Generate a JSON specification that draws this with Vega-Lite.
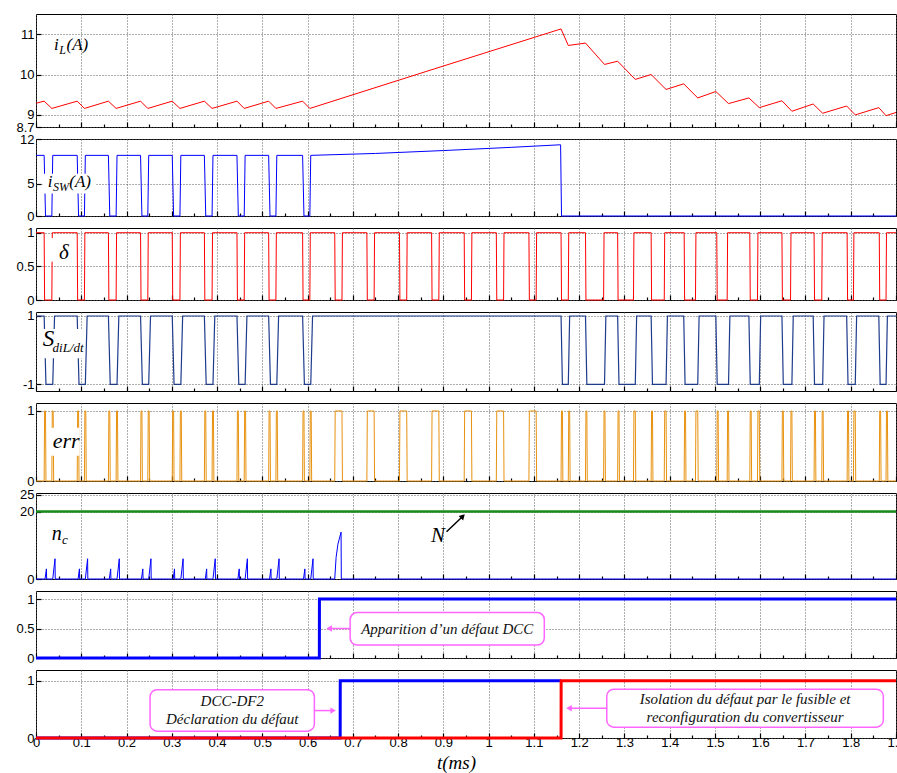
{
"$schema":"https://vega.github.io/schema/vega-lite/v6.json",
"padding":{"left":5,"top":13,"right":0,"bottom":0},
"spacing":12,
"bounds":"flush",
"config":{"view":{"stroke":"#000","strokeWidth":1},"axis":{"gridColor":"#5a5a5a","gridDash":[1,2],"gridWidth":1,"labelFont":"Liberation Sans","labelFontSize":13,"labelColor":"#000","tickColor":"#000","tickWidth":1.2,"domain":false,"labelOverlap":false}},
"datasets":{
"tk":[{"t":0.05},{"t":0.1},{"t":0.15},{"t":0.2},{"t":0.25},{"t":0.3},{"t":0.35},{"t":0.4},{"t":0.45},{"t":0.5},{"t":0.55},{"t":0.6},{"t":0.65},{"t":0.7},{"t":0.75},{"t":0.8},{"t":0.85},{"t":0.9},{"t":0.95},{"t":1.0},{"t":1.05},{"t":1.1},{"t":1.15},{"t":1.2},{"t":1.25},{"t":1.3},{"t":1.35},{"t":1.4},{"t":1.45},{"t":1.5},{"t":1.55},{"t":1.6},{"t":1.65},{"t":1.7},{"t":1.75},{"t":1.8},{"t":1.85}],
"iL":[{"t":0,"v":9.29},{"t":0.018,"v":9.34},{"t":0.035,"v":9.16},{"t":0.091,"v":9.34},{"t":0.107,"v":9.16},{"t":0.16,"v":9.34},{"t":0.177,"v":9.16},{"t":0.231,"v":9.34},{"t":0.247,"v":9.16},{"t":0.301,"v":9.34},{"t":0.318,"v":9.16},{"t":0.372,"v":9.34},{"t":0.389,"v":9.16},{"t":0.444,"v":9.34},{"t":0.46,"v":9.16},{"t":0.514,"v":9.34},{"t":0.53,"v":9.16},{"t":0.589,"v":9.34},{"t":0.605,"v":9.16},{"t":0.88,"v":10.14},{"t":1.16,"v":11.13},{"t":1.176,"v":10.72},{"t":1.214,"v":10.78},{"t":1.256,"v":10.25},{"t":1.285,"v":10.33},{"t":1.324,"v":9.88},{"t":1.359,"v":10.0},{"t":1.392,"v":9.63},{"t":1.431,"v":9.77},{"t":1.462,"v":9.42},{"t":1.502,"v":9.58},{"t":1.53,"v":9.28},{"t":1.575,"v":9.42},{"t":1.598,"v":9.18},{"t":1.648,"v":9.35},{"t":1.67,"v":9.09},{"t":1.717,"v":9.27},{"t":1.738,"v":9.04},{"t":1.791,"v":9.22},{"t":1.81,"v":9.0},{"t":1.862,"v":9.18},{"t":1.878,"v":8.98},{"t":1.9,"v":9.06}],
"isw":[{"t":0,"v":9.45},{"t":0.018,"v":9.45},{"t":0.021,"v":0},{"t":0.035,"v":0},{"t":0.037,"v":9.45},{"t":0.091,"v":9.45},{"t":0.094,"v":0},{"t":0.107,"v":0},{"t":0.109,"v":9.45},{"t":0.16,"v":9.45},{"t":0.163,"v":0},{"t":0.177,"v":0},{"t":0.179,"v":9.45},{"t":0.231,"v":9.45},{"t":0.234,"v":0},{"t":0.247,"v":0},{"t":0.249,"v":9.45},{"t":0.301,"v":9.45},{"t":0.304,"v":0},{"t":0.318,"v":0},{"t":0.32,"v":9.45},{"t":0.372,"v":9.45},{"t":0.375,"v":0},{"t":0.389,"v":0},{"t":0.391,"v":9.45},{"t":0.444,"v":9.45},{"t":0.447,"v":0},{"t":0.46,"v":0},{"t":0.462,"v":9.45},{"t":0.514,"v":9.45},{"t":0.517,"v":0},{"t":0.53,"v":0},{"t":0.532,"v":9.45},{"t":0.589,"v":9.45},{"t":0.592,"v":0},{"t":0.605,"v":0},{"t":0.607,"v":9.45},{"t":0.75,"v":9.75},{"t":0.9,"v":10.2},{"t":1.05,"v":10.7},{"t":1.159,"v":11.1},{"t":1.161,"v":0},{"t":1.9,"v":0}],
"delta":[{"t":0,"v":1},{"t":0.018,"v":1},{"t":0.019,"v":0},{"t":0.035,"v":0},{"t":0.036,"v":1},{"t":0.091,"v":1},{"t":0.092,"v":0},{"t":0.107,"v":0},{"t":0.108,"v":1},{"t":0.16,"v":1},{"t":0.161,"v":0},{"t":0.177,"v":0},{"t":0.178,"v":1},{"t":0.231,"v":1},{"t":0.232,"v":0},{"t":0.247,"v":0},{"t":0.248,"v":1},{"t":0.301,"v":1},{"t":0.302,"v":0},{"t":0.318,"v":0},{"t":0.319,"v":1},{"t":0.372,"v":1},{"t":0.373,"v":0},{"t":0.389,"v":0},{"t":0.39,"v":1},{"t":0.444,"v":1},{"t":0.445,"v":0},{"t":0.46,"v":0},{"t":0.461,"v":1},{"t":0.514,"v":1},{"t":0.515,"v":0},{"t":0.53,"v":0},{"t":0.531,"v":1},{"t":0.589,"v":1},{"t":0.59,"v":0},{"t":0.605,"v":0},{"t":0.606,"v":1},{"t":0.66,"v":1},{"t":0.661,"v":0},{"t":0.676,"v":0},{"t":0.677,"v":1},{"t":0.731,"v":1},{"t":0.732,"v":0},{"t":0.747,"v":0},{"t":0.748,"v":1},{"t":0.803,"v":1},{"t":0.804,"v":0},{"t":0.819,"v":0},{"t":0.82,"v":1},{"t":0.874,"v":1},{"t":0.875,"v":0},{"t":0.89,"v":0},{"t":0.891,"v":1},{"t":0.946,"v":1},{"t":0.947,"v":0},{"t":0.962,"v":0},{"t":0.963,"v":1},{"t":1.017,"v":1},{"t":1.018,"v":0},{"t":1.033,"v":0},{"t":1.034,"v":1},{"t":1.089,"v":1},{"t":1.09,"v":0},{"t":1.105,"v":0},{"t":1.106,"v":1},{"t":1.16,"v":1},{"t":1.161,"v":0},{"t":1.176,"v":0},{"t":1.177,"v":1},{"t":1.214,"v":1},{"t":1.215,"v":0},{"t":1.254,"v":0},{"t":1.255,"v":1},{"t":1.285,"v":1},{"t":1.286,"v":0},{"t":1.32,"v":0},{"t":1.321,"v":1},{"t":1.359,"v":1},{"t":1.36,"v":0},{"t":1.388,"v":0},{"t":1.389,"v":1},{"t":1.432,"v":1},{"t":1.433,"v":0},{"t":1.457,"v":0},{"t":1.458,"v":1},{"t":1.504,"v":1},{"t":1.505,"v":0},{"t":1.527,"v":0},{"t":1.528,"v":1},{"t":1.577,"v":1},{"t":1.578,"v":0},{"t":1.594,"v":0},{"t":1.595,"v":1},{"t":1.648,"v":1},{"t":1.649,"v":0},{"t":1.667,"v":0},{"t":1.668,"v":1},{"t":1.719,"v":1},{"t":1.72,"v":0},{"t":1.736,"v":0},{"t":1.737,"v":1},{"t":1.792,"v":1},{"t":1.793,"v":0},{"t":1.806,"v":0},{"t":1.807,"v":1},{"t":1.863,"v":1},{"t":1.864,"v":0},{"t":1.878,"v":0},{"t":1.879,"v":1},{"t":1.9,"v":1}],
"sdil":[{"t":0,"v":1},{"t":0.018,"v":1},{"t":0.022,"v":-1},{"t":0.037,"v":-1},{"t":0.041,"v":1},{"t":0.091,"v":1},{"t":0.095,"v":-1},{"t":0.109,"v":-1},{"t":0.113,"v":1},{"t":0.16,"v":1},{"t":0.164,"v":-1},{"t":0.179,"v":-1},{"t":0.183,"v":1},{"t":0.231,"v":1},{"t":0.235,"v":-1},{"t":0.249,"v":-1},{"t":0.253,"v":1},{"t":0.301,"v":1},{"t":0.305,"v":-1},{"t":0.32,"v":-1},{"t":0.324,"v":1},{"t":0.372,"v":1},{"t":0.376,"v":-1},{"t":0.391,"v":-1},{"t":0.395,"v":1},{"t":0.444,"v":1},{"t":0.448,"v":-1},{"t":0.462,"v":-1},{"t":0.466,"v":1},{"t":0.514,"v":1},{"t":0.518,"v":-1},{"t":0.532,"v":-1},{"t":0.536,"v":1},{"t":0.589,"v":1},{"t":0.593,"v":-1},{"t":0.607,"v":-1},{"t":0.611,"v":1},{"t":1.16,"v":1},{"t":1.163,"v":-1},{"t":1.176,"v":-1},{"t":1.179,"v":1},{"t":1.214,"v":1},{"t":1.217,"v":-1},{"t":1.256,"v":-1},{"t":1.259,"v":1},{"t":1.285,"v":1},{"t":1.288,"v":-1},{"t":1.324,"v":-1},{"t":1.327,"v":1},{"t":1.359,"v":1},{"t":1.362,"v":-1},{"t":1.392,"v":-1},{"t":1.395,"v":1},{"t":1.431,"v":1},{"t":1.434,"v":-1},{"t":1.462,"v":-1},{"t":1.465,"v":1},{"t":1.502,"v":1},{"t":1.505,"v":-1},{"t":1.53,"v":-1},{"t":1.533,"v":1},{"t":1.575,"v":1},{"t":1.578,"v":-1},{"t":1.598,"v":-1},{"t":1.601,"v":1},{"t":1.648,"v":1},{"t":1.651,"v":-1},{"t":1.67,"v":-1},{"t":1.673,"v":1},{"t":1.717,"v":1},{"t":1.72,"v":-1},{"t":1.738,"v":-1},{"t":1.741,"v":1},{"t":1.791,"v":1},{"t":1.794,"v":-1},{"t":1.81,"v":-1},{"t":1.813,"v":1},{"t":1.862,"v":1},{"t":1.865,"v":-1},{"t":1.878,"v":-1},{"t":1.881,"v":1},{"t":1.9,"v":1}],
"err":[{"t":0,"v":0},{"t":0.018,"v":0},{"t":0.019,"v":1},{"t":0.021,"v":1},{"t":0.022,"v":0},{"t":0.035,"v":0},{"t":0.036,"v":1},{"t":0.038,"v":1},{"t":0.039,"v":0},{"t":0.091,"v":0},{"t":0.092,"v":1},{"t":0.094,"v":1},{"t":0.095,"v":0},{"t":0.107,"v":0},{"t":0.108,"v":1},{"t":0.11,"v":1},{"t":0.111,"v":0},{"t":0.16,"v":0},{"t":0.161,"v":1},{"t":0.163,"v":1},{"t":0.164,"v":0},{"t":0.177,"v":0},{"t":0.178,"v":1},{"t":0.18,"v":1},{"t":0.181,"v":0},{"t":0.231,"v":0},{"t":0.232,"v":1},{"t":0.234,"v":1},{"t":0.235,"v":0},{"t":0.247,"v":0},{"t":0.248,"v":1},{"t":0.25,"v":1},{"t":0.251,"v":0},{"t":0.301,"v":0},{"t":0.302,"v":1},{"t":0.304,"v":1},{"t":0.305,"v":0},{"t":0.318,"v":0},{"t":0.319,"v":1},{"t":0.321,"v":1},{"t":0.322,"v":0},{"t":0.372,"v":0},{"t":0.373,"v":1},{"t":0.375,"v":1},{"t":0.376,"v":0},{"t":0.389,"v":0},{"t":0.39,"v":1},{"t":0.392,"v":1},{"t":0.393,"v":0},{"t":0.444,"v":0},{"t":0.445,"v":1},{"t":0.447,"v":1},{"t":0.448,"v":0},{"t":0.46,"v":0},{"t":0.461,"v":1},{"t":0.463,"v":1},{"t":0.464,"v":0},{"t":0.514,"v":0},{"t":0.515,"v":1},{"t":0.517,"v":1},{"t":0.518,"v":0},{"t":0.53,"v":0},{"t":0.531,"v":1},{"t":0.533,"v":1},{"t":0.534,"v":0},{"t":0.589,"v":0},{"t":0.59,"v":1},{"t":0.592,"v":1},{"t":0.593,"v":0},{"t":0.605,"v":0},{"t":0.606,"v":1},{"t":0.608,"v":1},{"t":0.609,"v":0},{"t":0.66,"v":0},{"t":0.661,"v":1},{"t":0.676,"v":1},{"t":0.677,"v":0},{"t":0.731,"v":0},{"t":0.732,"v":1},{"t":0.747,"v":1},{"t":0.748,"v":0},{"t":0.803,"v":0},{"t":0.804,"v":1},{"t":0.819,"v":1},{"t":0.82,"v":0},{"t":0.874,"v":0},{"t":0.875,"v":1},{"t":0.89,"v":1},{"t":0.891,"v":0},{"t":0.946,"v":0},{"t":0.947,"v":1},{"t":0.962,"v":1},{"t":0.963,"v":0},{"t":1.017,"v":0},{"t":1.018,"v":1},{"t":1.033,"v":1},{"t":1.034,"v":0},{"t":1.089,"v":0},{"t":1.09,"v":1},{"t":1.105,"v":1},{"t":1.106,"v":0},{"t":1.16,"v":0},{"t":1.161,"v":1},{"t":1.163,"v":1},{"t":1.164,"v":0},{"t":1.176,"v":0},{"t":1.177,"v":1},{"t":1.179,"v":1},{"t":1.18,"v":0},{"t":1.214,"v":0},{"t":1.215,"v":1},{"t":1.217,"v":1},{"t":1.218,"v":0},{"t":1.254,"v":0},{"t":1.255,"v":1},{"t":1.257,"v":1},{"t":1.258,"v":0},{"t":1.285,"v":0},{"t":1.286,"v":1},{"t":1.288,"v":1},{"t":1.289,"v":0},{"t":1.32,"v":0},{"t":1.321,"v":1},{"t":1.324,"v":1},{"t":1.325,"v":0},{"t":1.359,"v":0},{"t":1.36,"v":1},{"t":1.362,"v":1},{"t":1.363,"v":0},{"t":1.388,"v":0},{"t":1.389,"v":1},{"t":1.392,"v":1},{"t":1.393,"v":0},{"t":1.432,"v":0},{"t":1.433,"v":1},{"t":1.435,"v":1},{"t":1.436,"v":0},{"t":1.457,"v":0},{"t":1.458,"v":1},{"t":1.462,"v":1},{"t":1.463,"v":0},{"t":1.504,"v":0},{"t":1.505,"v":1},{"t":1.507,"v":1},{"t":1.508,"v":0},{"t":1.527,"v":0},{"t":1.528,"v":1},{"t":1.53,"v":1},{"t":1.531,"v":0},{"t":1.577,"v":0},{"t":1.578,"v":1},{"t":1.58,"v":1},{"t":1.581,"v":0},{"t":1.594,"v":0},{"t":1.595,"v":1},{"t":1.598,"v":1},{"t":1.599,"v":0},{"t":1.648,"v":0},{"t":1.649,"v":1},{"t":1.651,"v":1},{"t":1.652,"v":0},{"t":1.667,"v":0},{"t":1.668,"v":1},{"t":1.67,"v":1},{"t":1.671,"v":0},{"t":1.719,"v":0},{"t":1.72,"v":1},{"t":1.722,"v":1},{"t":1.723,"v":0},{"t":1.736,"v":0},{"t":1.737,"v":1},{"t":1.739,"v":1},{"t":1.74,"v":0},{"t":1.792,"v":0},{"t":1.793,"v":1},{"t":1.795,"v":1},{"t":1.796,"v":0},{"t":1.806,"v":0},{"t":1.807,"v":1},{"t":1.81,"v":1},{"t":1.811,"v":0},{"t":1.863,"v":0},{"t":1.864,"v":1},{"t":1.866,"v":1},{"t":1.867,"v":0},{"t":1.878,"v":0},{"t":1.879,"v":1},{"t":1.881,"v":1},{"t":1.882,"v":0},{"t":1.9,"v":0}],
"nc":[{"t":0,"v":0},{"t":0.02,"v":0},{"t":0.023,"v":3},{"t":0.0235,"v":0},{"t":0.037,"v":0},{"t":0.042,"v":6},{"t":0.0425,"v":0},{"t":0.093,"v":0},{"t":0.096,"v":3},{"t":0.0965,"v":0},{"t":0.109,"v":0},{"t":0.114,"v":6},{"t":0.1145,"v":0},{"t":0.162,"v":0},{"t":0.165,"v":3},{"t":0.1655,"v":0},{"t":0.179,"v":0},{"t":0.184,"v":6},{"t":0.1845,"v":0},{"t":0.233,"v":0},{"t":0.236,"v":3},{"t":0.2365,"v":0},{"t":0.249,"v":0},{"t":0.254,"v":6},{"t":0.2545,"v":0},{"t":0.303,"v":0},{"t":0.306,"v":3},{"t":0.3065,"v":0},{"t":0.32,"v":0},{"t":0.325,"v":6},{"t":0.3255,"v":0},{"t":0.374,"v":0},{"t":0.377,"v":3},{"t":0.3775,"v":0},{"t":0.391,"v":0},{"t":0.396,"v":6},{"t":0.3965,"v":0},{"t":0.446,"v":0},{"t":0.449,"v":3},{"t":0.4495,"v":0},{"t":0.462,"v":0},{"t":0.467,"v":6},{"t":0.4675,"v":0},{"t":0.516,"v":0},{"t":0.519,"v":3},{"t":0.5195,"v":0},{"t":0.532,"v":0},{"t":0.537,"v":6},{"t":0.5375,"v":0},{"t":0.591,"v":0},{"t":0.594,"v":3},{"t":0.5945,"v":0},{"t":0.607,"v":0},{"t":0.612,"v":6},{"t":0.6125,"v":0},{"t":0.66,"v":0},{"t":0.663,"v":6.4},{"t":0.667,"v":10.3},{"t":0.674,"v":13.9},{"t":0.6745,"v":0},{"t":1.9,"v":0}],
"nline":[{"t":0,"v":20},{"t":1.9,"v":20}],
"p7":[{"t":0,"v":0},{"t":0.626,"v":0},{"t":0.6262,"v":1},{"t":1.9,"v":1}],
"p8b":[{"t":0,"v":0},{"t":0.672,"v":0},{"t":0.6722,"v":1},{"t":1.16,"v":1}],
"p8r":[{"t":0,"v":0},{"t":1.16,"v":0},{"t":1.1602,"v":1},{"t":1.9,"v":1}],
"txt":[{"p":1,"k":"a","t":0.04,"v":10.74,"txt":"i"},{"p":1,"k":"b","t":0.0514,"v":10.6,"txt":"L"},{"p":1,"k":"a","t":0.0674,"v":10.74,"txt":"(A)"},{"p":2,"k":"a","t":0.0258,"v":5.25,"txt":"i"},{"p":2,"k":"b","t":0.0375,"v":4.45,"txt":"SW"},{"p":2,"k":"a","t":0.0735,"v":5.25,"txt":"(A)"},{"p":3,"k":"c","t":0.051,"v":0.7,"txt":"δ"},{"p":4,"k":"d","t":0.0148,"v":0.32,"txt":"S"},{"p":4,"k":"e","t":0.0365,"v":0.06,"txt":"diL/dt"},{"p":5,"k":"f","t":0.037,"v":0.57,"txt":"err"},{"p":6,"k":"c","t":0.035,"v":13.4,"txt":"n"},{"p":6,"k":"e","t":0.0575,"v":11.6,"txt":"c"},{"p":6,"k":"n","t":0.888,"v":12.7,"txt":"N"},{"p":7,"k":"g","t":0.9085,"v":0.495,"txt":"Apparition d’un défaut DCC"},{"p":8,"k":"g","t":0.4335,"v":0.64,"txt":"DCC-DF2"},{"p":8,"k":"g","t":0.4335,"v":0.33,"txt":"Déclaration du défaut"},{"p":8,"k":"g","t":1.5665,"v":0.68,"txt":"Isolation du défaut par le fusible et"},{"p":8,"k":"g","t":1.5665,"v":0.36,"txt":"reconfiguration du convertisseur"}],
"wbox":[{"p":2,"t":0.015,"t2":0.133,"v":3.5,"v2":6.6},{"p":3,"t":0.033,"t2":0.075,"v":0.57,"v2":0.92},{"p":4,"t":0.004,"t2":0.107,"v":-0.24,"v2":0.62},{"p":5,"t":0.026,"t2":0.096,"v":0.36,"v2":0.76}],
"mbox":[{"p":7,"t":0.694,"t2":1.123,"v":0.22,"v2":0.77},{"p":8,"t":0.252,"t2":0.615,"v":0.12,"v2":0.845},{"p":8,"t":1.261,"t2":1.872,"v":0.19,"v2":0.855}],
"arrows":[{"p":6,"t":0.907,"v":14,"t2":0.943,"v2":18.6},{"p":7,"t":0.694,"v":0.5,"t2":0.648,"v2":0.5},{"p":8,"t":0.615,"v":0.48,"t2":0.656,"v2":0.48},{"p":8,"t":1.261,"v":0.52,"t2":1.178,"v2":0.52}],
"heads":[{"p":6,"dir":"ur","t":0.943,"v":18.6},{"p":7,"dir":"l","t":0.6476,"v":0.5},{"p":8,"dir":"r","t":0.6564,"v":0.48},{"p":8,"dir":"l","t":1.1776,"v":0.52}]
},
"vconcat":[
{"width":860,"height":113,
 "encoding":{"x":{"field":"t","type":"quantitative","scale":{"domain":[0,1.9],"nice":false,"zero":false},"axis":{"title":null,"values":[0,0.05,0.1,0.15,0.2,0.25,0.3,0.35,0.4,0.45,0.5,0.55,0.6,0.65,0.7,0.75,0.8,0.85,0.9,0.95,1,1.05,1.1,1.15,1.2,1.25,1.3,1.35,1.4,1.45,1.5,1.55,1.6,1.65,1.7,1.75,1.8,1.85,1.9],"labels":false,"grid":true,"gridOpacity":{"condition":{"test":"round(datum.value*20)%2==1","value":0},"value":1},"ticks":true,"tickSize":{"condition":{"test":"round(datum.value*20)%2==1","value":-3},"value":-5},"minExtent":0,"maxExtent":0}},"y":{"field":"v","type":"quantitative","scale":{"domain":[8.7,11.5],"nice":false,"zero":false},"axis":{"title":null,"values":[8.7,9,10,11],"labelExpr":"datum.value + ''","grid":true,"ticks":true,"tickSize":-5,"labelPadding":7,"minExtent":30,"maxExtent":30}}},
 "layer":[
 {"data":{"name":"tk"},"mark":{"type":"rule","color":"#000","strokeWidth":1.2},"encoding":{"y":{"datum":11.5},"y2":{"datum":11.4}}},
 {"data":{"name":"iL"},"mark":{"type":"line","color":"#ff0000","strokeWidth":1}},
 {"data":{"name":"txt"},"transform":[{"filter":"datum.p==1 && datum.k=='a'"}],"mark":{"type":"text","font":"Liberation Serif","fontStyle":"italic","fontSize":17,"align":"left","baseline":"middle","color":"#000"},"encoding":{"text":{"field":"txt"}}},
 {"data":{"name":"txt"},"transform":[{"filter":"datum.p==1 && datum.k=='b'"}],"mark":{"type":"text","font":"Liberation Serif","fontStyle":"italic","fontSize":12,"align":"left","baseline":"middle","color":"#000"},"encoding":{"text":{"field":"txt"}}}
]},
{"width":860,"height":77,
 "encoding":{"x":{"field":"t","type":"quantitative","scale":{"domain":[0,1.9],"nice":false,"zero":false},"axis":{"title":null,"values":[0,0.05,0.1,0.15,0.2,0.25,0.3,0.35,0.4,0.45,0.5,0.55,0.6,0.65,0.7,0.75,0.8,0.85,0.9,0.95,1,1.05,1.1,1.15,1.2,1.25,1.3,1.35,1.4,1.45,1.5,1.55,1.6,1.65,1.7,1.75,1.8,1.85,1.9],"labels":false,"grid":true,"gridOpacity":{"condition":{"test":"round(datum.value*20)%2==1","value":0},"value":1},"ticks":true,"tickSize":{"condition":{"test":"round(datum.value*20)%2==1","value":-3},"value":-5},"minExtent":0,"maxExtent":0}},"y":{"field":"v","type":"quantitative","scale":{"domain":[0,12],"nice":false,"zero":false},"axis":{"title":null,"values":[0,5,12],"labelExpr":"datum.value + ''","grid":true,"ticks":true,"tickSize":-5,"labelPadding":7,"minExtent":30,"maxExtent":30}}},
 "layer":[
 {"data":{"name":"tk"},"mark":{"type":"rule","color":"#000","strokeWidth":1.2},"encoding":{"y":{"datum":12},"y2":{"datum":11.38}}},
 {"data":{"name":"isw"},"mark":{"type":"line","color":"#0000ff","strokeWidth":1}},
 {"data":{"name":"wbox"},"transform":[{"filter":"datum.p==2"}],"mark":{"type":"rect","fill":"#ffffff"},"encoding":{"x2":{"field":"t2"},"y2":{"field":"v2"}}},
 {"data":{"name":"txt"},"transform":[{"filter":"datum.p==2 && datum.k=='a'"}],"mark":{"type":"text","font":"Liberation Serif","fontStyle":"italic","fontSize":17,"align":"left","baseline":"middle","color":"#000"},"encoding":{"text":{"field":"txt"}}},
 {"data":{"name":"txt"},"transform":[{"filter":"datum.p==2 && datum.k=='b'"}],"mark":{"type":"text","font":"Liberation Serif","fontStyle":"italic","fontSize":12,"align":"left","baseline":"middle","color":"#000"},"encoding":{"text":{"field":"txt"}}}
]},
{"width":860,"height":72,
 "encoding":{"x":{"field":"t","type":"quantitative","scale":{"domain":[0,1.9],"nice":false,"zero":false},"axis":{"title":null,"values":[0,0.05,0.1,0.15,0.2,0.25,0.3,0.35,0.4,0.45,0.5,0.55,0.6,0.65,0.7,0.75,0.8,0.85,0.9,0.95,1,1.05,1.1,1.15,1.2,1.25,1.3,1.35,1.4,1.45,1.5,1.55,1.6,1.65,1.7,1.75,1.8,1.85,1.9],"labels":false,"grid":true,"gridOpacity":{"condition":{"test":"round(datum.value*20)%2==1","value":0},"value":1},"ticks":true,"tickSize":{"condition":{"test":"round(datum.value*20)%2==1","value":-3},"value":-5},"minExtent":0,"maxExtent":0}},"y":{"field":"v","type":"quantitative","scale":{"domain":[0,1.07],"nice":false,"zero":false},"axis":{"title":null,"values":[0,0.5,1],"labelExpr":"datum.value + ''","grid":true,"ticks":true,"tickSize":-5,"labelPadding":7,"minExtent":30,"maxExtent":30}}},
 "layer":[
 {"data":{"name":"tk"},"mark":{"type":"rule","color":"#000","strokeWidth":1.2},"encoding":{"y":{"datum":1.07},"y2":{"datum":1.011}}},
 {"data":{"name":"delta"},"mark":{"type":"line","color":"#ff0000","strokeWidth":1}},
 {"data":{"name":"wbox"},"transform":[{"filter":"datum.p==3"}],"mark":{"type":"rect","fill":"#ffffff"},"encoding":{"x2":{"field":"t2"},"y2":{"field":"v2"}}},
 {"data":{"name":"txt"},"transform":[{"filter":"datum.p==3 && datum.k=='c'"}],"mark":{"type":"text","font":"Liberation Serif","fontStyle":"italic","fontSize":21,"align":"left","baseline":"middle","color":"#000"},"encoding":{"text":{"field":"txt"}}}
]},
{"width":860,"height":79,
 "encoding":{"x":{"field":"t","type":"quantitative","scale":{"domain":[0,1.9],"nice":false,"zero":false},"axis":{"title":null,"values":[0,0.05,0.1,0.15,0.2,0.25,0.3,0.35,0.4,0.45,0.5,0.55,0.6,0.65,0.7,0.75,0.8,0.85,0.9,0.95,1,1.05,1.1,1.15,1.2,1.25,1.3,1.35,1.4,1.45,1.5,1.55,1.6,1.65,1.7,1.75,1.8,1.85,1.9],"labels":false,"grid":true,"gridOpacity":{"condition":{"test":"round(datum.value*20)%2==1","value":0},"value":1},"ticks":true,"tickSize":{"condition":{"test":"round(datum.value*20)%2==1","value":-3},"value":-5},"minExtent":0,"maxExtent":0}},"y":{"field":"v","type":"quantitative","scale":{"domain":[-1.196,1.117],"nice":false,"zero":false},"axis":{"title":null,"values":[-1,1],"labelExpr":"datum.value + ''","grid":true,"ticks":true,"tickSize":-5,"labelPadding":7,"minExtent":30,"maxExtent":30}}},
 "layer":[
 {"data":{"name":"tk"},"mark":{"type":"rule","color":"#000","strokeWidth":1.2},"encoding":{"y":{"datum":1.117},"y2":{"datum":1.0}}},
 {"data":{"name":"sdil"},"mark":{"type":"line","color":"#1f3c8c","strokeWidth":1.2}},
 {"data":{"name":"wbox"},"transform":[{"filter":"datum.p==4"}],"mark":{"type":"rect","fill":"#ffffff"},"encoding":{"x2":{"field":"t2"},"y2":{"field":"v2"}}},
 {"data":{"name":"txt"},"transform":[{"filter":"datum.p==4 && datum.k=='d'"}],"mark":{"type":"text","font":"Liberation Serif","fontStyle":"italic","fontSize":23,"align":"left","baseline":"middle","color":"#000"},"encoding":{"text":{"field":"txt"}}},
 {"data":{"name":"txt"},"transform":[{"filter":"datum.p==4 && datum.k=='e'"}],"mark":{"type":"text","font":"Liberation Serif","fontStyle":"italic","fontSize":13,"align":"left","baseline":"middle","color":"#000"},"encoding":{"text":{"field":"txt"}}}
]},
{"width":860,"height":78,
 "encoding":{"x":{"field":"t","type":"quantitative","scale":{"domain":[0,1.9],"nice":false,"zero":false},"axis":{"title":null,"values":[0,0.05,0.1,0.15,0.2,0.25,0.3,0.35,0.4,0.45,0.5,0.55,0.6,0.65,0.7,0.75,0.8,0.85,0.9,0.95,1,1.05,1.1,1.15,1.2,1.25,1.3,1.35,1.4,1.45,1.5,1.55,1.6,1.65,1.7,1.75,1.8,1.85,1.9],"labels":false,"grid":true,"gridOpacity":{"condition":{"test":"round(datum.value*20)%2==1","value":0},"value":1},"ticks":true,"tickSize":{"condition":{"test":"round(datum.value*20)%2==1","value":-3},"value":-5},"minExtent":0,"maxExtent":0}},"y":{"field":"v","type":"quantitative","scale":{"domain":[0,1.114],"nice":false,"zero":false},"axis":{"title":null,"values":[0,1],"labelExpr":"datum.value + ''","grid":true,"ticks":true,"tickSize":-5,"labelPadding":7,"minExtent":30,"maxExtent":30}}},
 "layer":[
 {"data":{"name":"tk"},"mark":{"type":"rule","color":"#000","strokeWidth":1.2},"encoding":{"y":{"datum":1.114},"y2":{"datum":1.057}}},
 {"data":{"name":"err"},"mark":{"type":"line","color":"#e8920f","strokeWidth":1}},
 {"data":{"name":"wbox"},"transform":[{"filter":"datum.p==5"}],"mark":{"type":"rect","fill":"#ffffff"},"encoding":{"x2":{"field":"t2"},"y2":{"field":"v2"}}},
 {"data":{"name":"txt"},"transform":[{"filter":"datum.p==5 && datum.k=='f'"}],"mark":{"type":"text","font":"Liberation Serif","fontStyle":"italic","fontSize":22,"align":"left","baseline":"middle","color":"#000"},"encoding":{"text":{"field":"txt"}}}
]},
{"width":860,"height":86,
 "encoding":{"x":{"field":"t","type":"quantitative","scale":{"domain":[0,1.9],"nice":false,"zero":false},"axis":{"title":null,"values":[0,0.05,0.1,0.15,0.2,0.25,0.3,0.35,0.4,0.45,0.5,0.55,0.6,0.65,0.7,0.75,0.8,0.85,0.9,0.95,1,1.05,1.1,1.15,1.2,1.25,1.3,1.35,1.4,1.45,1.5,1.55,1.6,1.65,1.7,1.75,1.8,1.85,1.9],"labels":false,"grid":true,"gridOpacity":{"condition":{"test":"round(datum.value*20)%2==1","value":0},"value":1},"ticks":true,"tickSize":{"condition":{"test":"round(datum.value*20)%2==1","value":-3},"value":-5},"minExtent":0,"maxExtent":0}},"y":{"field":"v","type":"quantitative","scale":{"domain":[0,25.5],"nice":false,"zero":false},"axis":{"title":null,"values":[0,20,25],"labelExpr":"datum.value + ''","grid":true,"ticks":true,"tickSize":-5,"labelPadding":7,"minExtent":30,"maxExtent":30}}},
 "layer":[
 {"data":{"name":"tk"},"mark":{"type":"rule","color":"#000","strokeWidth":1.2},"encoding":{"y":{"datum":25.5},"y2":{"datum":24.3}}},
 {"data":{"name":"nline"},"mark":{"type":"line","color":"#1a8c1a","strokeWidth":2.5}},
 {"data":{"name":"nc"},"mark":{"type":"line","color":"#0000ff","strokeWidth":1}},
 {"data":{"name":"arrows"},"transform":[{"filter":"datum.p==6"}],"mark":{"type":"rule","color":"#000","strokeWidth":1.5},"encoding":{"x2":{"field":"t2"},"y2":{"field":"v2"}}},
 {"data":{"name":"heads"},"transform":[{"filter":"datum.p==6"}],"mark":{"type":"point","shape":"triangle-up","angle":45,"filled":true,"color":"#000","opacity":1,"size":40}},
 {"data":{"name":"txt"},"transform":[{"filter":"datum.p==6 && datum.k=='c'"}],"mark":{"type":"text","font":"Liberation Serif","fontStyle":"italic","fontSize":20,"align":"left","baseline":"middle","color":"#000"},"encoding":{"text":{"field":"txt"}}},
 {"data":{"name":"txt"},"transform":[{"filter":"datum.p==6 && datum.k=='e'"}],"mark":{"type":"text","font":"Liberation Serif","fontStyle":"italic","fontSize":13,"align":"left","baseline":"middle","color":"#000"},"encoding":{"text":{"field":"txt"}}},
 {"data":{"name":"txt"},"transform":[{"filter":"datum.p==6 && datum.k=='n'"}],"mark":{"type":"text","font":"Liberation Serif","fontStyle":"italic","fontSize":21,"align":"center","baseline":"middle","color":"#000"},"encoding":{"text":{"field":"txt"}}}
]},
{"width":860,"height":67,
 "encoding":{"x":{"field":"t","type":"quantitative","scale":{"domain":[0,1.9],"nice":false,"zero":false},"axis":{"title":null,"values":[0,0.05,0.1,0.15,0.2,0.25,0.3,0.35,0.4,0.45,0.5,0.55,0.6,0.65,0.7,0.75,0.8,0.85,0.9,0.95,1,1.05,1.1,1.15,1.2,1.25,1.3,1.35,1.4,1.45,1.5,1.55,1.6,1.65,1.7,1.75,1.8,1.85,1.9],"labels":false,"grid":true,"gridOpacity":{"condition":{"test":"round(datum.value*20)%2==1","value":0},"value":1},"ticks":true,"tickSize":{"condition":{"test":"round(datum.value*20)%2==1","value":-3},"value":-5},"minExtent":0,"maxExtent":0}},"y":{"field":"v","type":"quantitative","scale":{"domain":[0,1.136],"nice":false,"zero":false},"axis":{"title":null,"values":[0,0.5,1],"labelExpr":"datum.value + ''","grid":true,"ticks":true,"tickSize":-5,"labelPadding":7,"minExtent":30,"maxExtent":30}}},
 "layer":[
 {"data":{"name":"tk"},"mark":{"type":"rule","color":"#000","strokeWidth":1.2},"encoding":{"y":{"datum":1.136},"y2":{"datum":1.068}}},
 {"data":{"name":"p7"},"mark":{"type":"line","color":"#0000ff","strokeWidth":3}},
 {"data":{"name":"arrows"},"transform":[{"filter":"datum.p==7"}],"mark":{"type":"rule","color":"#ff66ff","strokeWidth":1.5},"encoding":{"x2":{"field":"t2"},"y2":{"field":"v2"}}},
 {"data":{"name":"heads"},"transform":[{"filter":"datum.p==7"}],"mark":{"type":"point","shape":"triangle-left","filled":true,"color":"#ff66ff","opacity":1,"size":40}},
 {"data":{"name":"mbox"},"transform":[{"filter":"datum.p==7"}],"mark":{"type":"rect","fill":"#ffffff","stroke":"#ff66ff","strokeWidth":1.5,"cornerRadius":7},"encoding":{"x2":{"field":"t2"},"y2":{"field":"v2"}}},
 {"data":{"name":"txt"},"transform":[{"filter":"datum.p==7 && datum.k=='g'"}],"mark":{"type":"text","font":"Liberation Serif","fontStyle":"italic","fontSize":15,"align":"center","baseline":"middle","color":"#111"},"encoding":{"text":{"field":"txt"}}}
]},
{"width":860,"height":68,
 "encoding":{"x":{"field":"t","type":"quantitative","scale":{"domain":[0,1.9],"nice":false,"zero":false},"axis":{"title":"t(ms)","values":[0,0.05,0.1,0.15,0.2,0.25,0.3,0.35,0.4,0.45,0.5,0.55,0.6,0.65,0.7,0.75,0.8,0.85,0.9,0.95,1,1.05,1.1,1.15,1.2,1.25,1.3,1.35,1.4,1.45,1.5,1.55,1.6,1.65,1.7,1.75,1.8,1.85,1.9],"labelExpr":"round(datum.value*20)%2==1 ? '' : datum.value + ''","labelFlush":false,"labelPadding":3,"grid":true,"gridOpacity":{"condition":{"test":"round(datum.value*20)%2==1","value":0},"value":1},"ticks":true,"tickSize":{"condition":{"test":"round(datum.value*20)%2==1","value":-3},"value":-5},"titleFont":"Liberation Serif","titleFontStyle":"italic","titleFontWeight":"normal","titleFontSize":19,"titleColor":"#000","titleX":420,"titleY":30,"titleBaseline":"alphabetic"}},"y":{"field":"v","type":"quantitative","scale":{"domain":[0,1.19],"nice":false,"zero":false},"axis":{"title":null,"values":[0,1],"labelExpr":"datum.value + ''","grid":true,"ticks":true,"tickSize":-5,"labelPadding":7,"minExtent":30,"maxExtent":30}}},
 "layer":[
 {"data":{"name":"tk"},"mark":{"type":"rule","color":"#000","strokeWidth":1.2},"encoding":{"y":{"datum":1.19},"y2":{"datum":1.12}}},
 {"data":{"name":"p8b"},"mark":{"type":"line","color":"#0000ff","strokeWidth":3}},
 {"data":{"name":"p8r"},"mark":{"type":"line","color":"#ff0000","strokeWidth":3}},
 {"data":{"name":"arrows"},"transform":[{"filter":"datum.p==8"}],"mark":{"type":"rule","color":"#ff66ff","strokeWidth":1.5},"encoding":{"x2":{"field":"t2"},"y2":{"field":"v2"}}},
 {"data":{"name":"heads"},"transform":[{"filter":"datum.p==8 && datum.dir=='l'"}],"mark":{"type":"point","shape":"triangle-left","filled":true,"color":"#ff66ff","opacity":1,"size":40}},
 {"data":{"name":"heads"},"transform":[{"filter":"datum.p==8 && datum.dir=='r'"}],"mark":{"type":"point","shape":"triangle-right","filled":true,"color":"#ff66ff","opacity":1,"size":40}},
 {"data":{"name":"mbox"},"transform":[{"filter":"datum.p==8"}],"mark":{"type":"rect","fill":"#ffffff","stroke":"#ff66ff","strokeWidth":1.5,"cornerRadius":7},"encoding":{"x2":{"field":"t2"},"y2":{"field":"v2"}}},
 {"data":{"name":"txt"},"transform":[{"filter":"datum.p==8 && datum.k=='g'"}],"mark":{"type":"text","font":"Liberation Serif","fontStyle":"italic","fontSize":15,"align":"center","baseline":"middle","color":"#111"},"encoding":{"text":{"field":"txt"}}}
]}
]
}
